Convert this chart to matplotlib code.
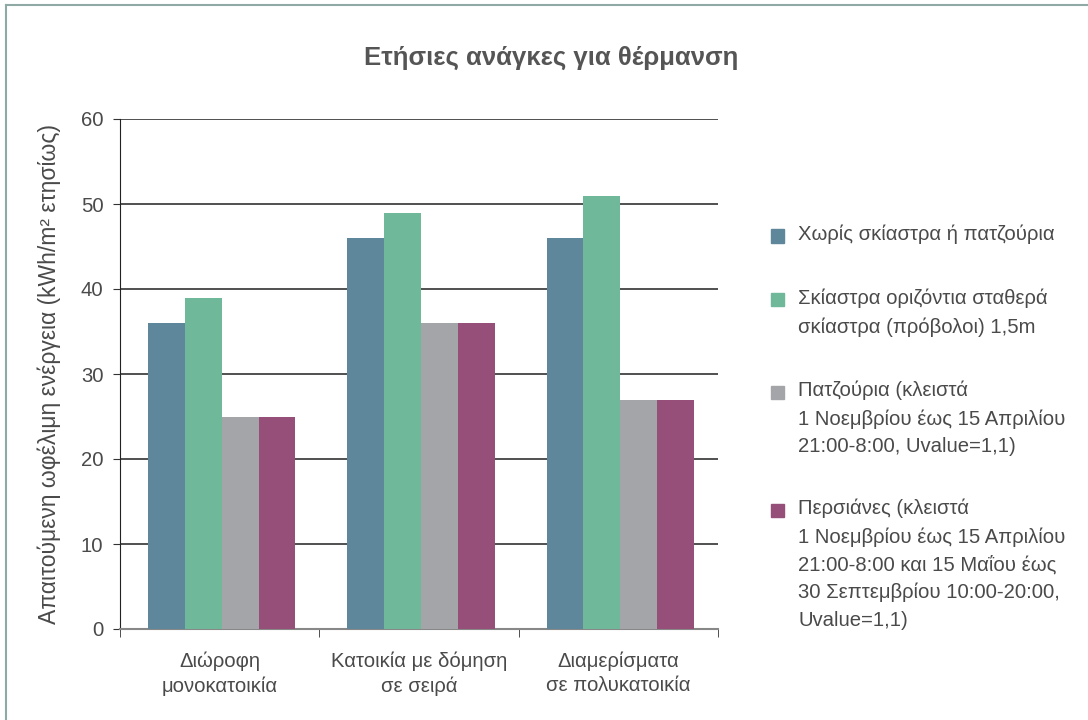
import matplotlib
matplotlib.use('Agg')
import matplotlib.pyplot as plt
from matplotlib.patches import Rectangle
from matplotlib.lines import Line2D
import numpy as np

plt.rcParams['font.family'] = ['Liberation Sans Narrow', 'Liberation Sans', 'DejaVu Sans']

# Δεδομένα
categories = ['Διώροφη\nμονοκατοικία', 'Κατοικία με δόμηση\nσε σειρά', 'Διαμερίσματα\nσε πολυκατοικία']
series_names = [
    'Χωρίς σκίαστρα ή πατζούρια',
    'Σκίαστρα οριζόντια σταθερά\nσκίαστρα (πρόβολοι) 1,5m',
    'Πατζούρια (κλειστά\n1 Νοεμβρίου έως 15 Απριλίου\n21:00-8:00, Uvalue=1,1)',
    'Περσιάνες (κλειστά\n1 Νοεμβρίου έως 15 Απριλίου\n21:00-8:00 και 15 Μαΐου έως\n30 Σεπτεμβρίου 10:00-20:00,\nUvalue=1,1)',
]
no_shading = [36, 46, 46]
overhangs = [39, 49, 51]
shutters = [25, 36, 27]
blinds = [25, 36, 27]
yticks = [0, 10, 20, 30, 40, 50, 60]

values = [no_shading, overhangs, shutters, blinds]
colors = ['#5f879b', '#6fb99a', '#a4a5a8', '#954f78']
txt = '#4a4a4a'
fs = 14.6

fig = plt.figure(figsize=(10.88, 7.2), dpi=100)
ax = fig.add_axes([120/1088, 91/720, 598/1088, 510/720])

x = np.arange(len(categories))
w = 0.185
for i, (vals, c) in enumerate(zip(values, colors)):
    ax.bar(x + (i - 1.5) * w + 0.01, vals, w, color=c, zorder=3)

ax.set_xlim(-0.5, 2.5)
ax.set_ylim(0, 60)
ax.set_yticks(yticks)
ax.yaxis.grid(True, color='#505050', linewidth=1.4, zorder=0)
ax.set_axisbelow(True)

ax.set_xticks(x)
ax.set_xticklabels(categories, fontsize=fs, color=txt, linespacing=1.35)
ax.set_xticks([-0.5, 0.5, 1.5, 2.5], minor=True)
ax.tick_params(axis='x', which='major', length=0, pad=16)
ax.tick_params(axis='x', which='minor', length=6, color='#333333', direction='out')
ax.tick_params(axis='y', length=5, color='#333333', labelsize=fs, labelcolor=txt, pad=7)

for s in ['top', 'right']:
    ax.spines[s].set_visible(False)
ax.spines['left'].set_color('#222222')
ax.spines['bottom'].set_color('#888888')
ax.spines['bottom'].set_linewidth(1.5)

ax.set_ylabel('Απαιτούμενη ωφέλιμη ενέργεια (kWh/m² ετησίως)', fontsize=16.5, color=txt, labelpad=14)

fig.text(0.5065, 1 - 58/720, 'Ετήσιες ανάγκες για θέρμανση', ha='center', va='center',
         fontsize=18.5, color='#555555', fontweight='bold')

# Υπόμνημα (τετράγωνο στο ύψος της πρώτης γραμμής)
leg_tops = [236, 300, 392, 510]
for name, c, yt in zip(series_names, colors, leg_tops):
    fig.patches.append(Rectangle((771/1088, 1 - (yt + 6.5)/720), 13/1088, 13/720,
                                 transform=fig.transFigure, color=c))
    fig.text(798/1088, 1 - (yt - 11)/720, name, ha='left', va='top', fontsize=fs,
             color=txt, linespacing=1.55)

# Πλαίσιο
fig.lines.append(Line2D([6/1088, 6/1088], [0, 1 - 5/720], transform=fig.transFigure, color='#8fa9a5', lw=1.5))
fig.lines.append(Line2D([6/1088, 1], [1 - 5/720, 1 - 5/720], transform=fig.transFigure, color='#8fa9a5', lw=1.5))

fig.savefig('out.png', dpi=100)
